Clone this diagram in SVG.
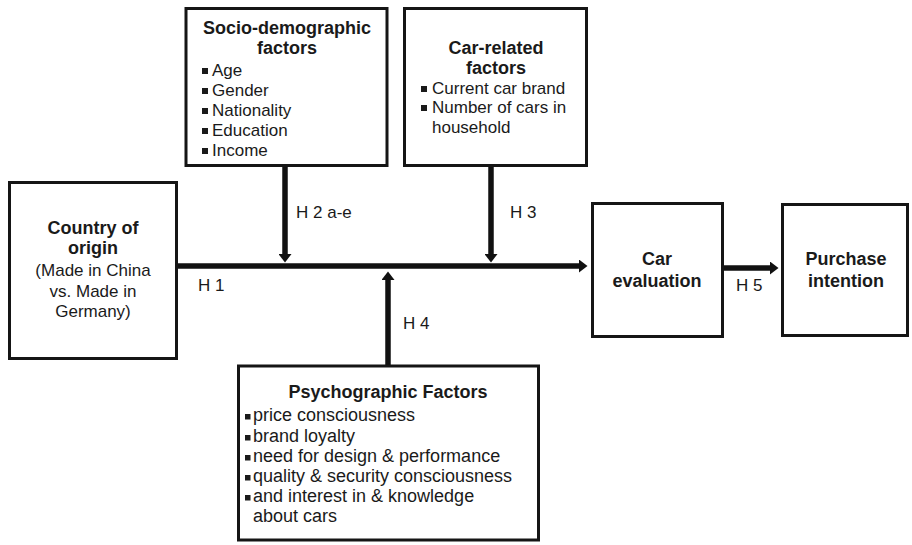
<svg xmlns="http://www.w3.org/2000/svg" width="912" height="545" viewBox="0 0 912 545">
  <style>
    .box { fill: #ffffff; stroke: #151515; stroke-width: 3; }
    .title { font-family: "Liberation Sans", Arial, sans-serif; font-weight: bold; font-size: 18px; fill: #1a1a1a; text-anchor: middle; }
    .body { font-family: "Liberation Sans", Arial, sans-serif; font-size: 17px; fill: #1a1a1a; }
    .psy { font-size: 18px; }
    .mid { text-anchor: middle; }
    .lbl { font-family: "Liberation Sans", Arial, sans-serif; font-size: 17px; fill: #1a1a1a; }
    .bullet { fill: #1a1a1a; }
    .conn { stroke: #111111; stroke-width: 5.5; fill: none; }
  </style>
  <defs>
    <marker id="head" markerUnits="userSpaceOnUse" markerWidth="9" markerHeight="13" refX="0" refY="6.5" orient="auto">
      <path d="M0,0 L8.5,6.5 L0,13 Z" fill="#111111"/>
    </marker>
  </defs>

  <rect width="912" height="545" fill="#ffffff"/>

  <!-- connectors -->
  <g id="connectors">
    <line class="conn" x1="177" y1="266" x2="579" y2="266" marker-end="url(#head)"/>
    <line class="conn" x1="285" y1="167" x2="285" y2="254" marker-end="url(#head)"/>
    <line class="conn" x1="491" y1="167" x2="491" y2="254" marker-end="url(#head)"/>
    <line class="conn" x1="388" y1="365" x2="388" y2="280" marker-end="url(#head)"/>
    <line class="conn" x1="724" y1="268" x2="770" y2="268" marker-end="url(#head)"/>
    <text class="lbl" x="296" y="218">H 2 a-e</text>
    <text class="lbl" x="510" y="218">H 3</text>
    <text class="lbl" x="198" y="291">H 1</text>
    <text class="lbl" x="403" y="329">H 4</text>
    <text class="lbl" x="736" y="291">H 5</text>
  </g>

  <!-- socio-demographic factors -->
  <g id="socio">
    <rect class="box" x="186" y="8.5" width="201" height="157"/>
    <text class="title" x="287" y="34">Socio-demographic</text>
    <text class="title" x="287" y="54">factors</text>
    <rect class="bullet" x="202" y="68" width="6" height="6"/>
    <text class="body" x="212" y="76">Age</text>
    <rect class="bullet" x="202" y="88" width="6" height="6"/>
    <text class="body" x="212" y="96">Gender</text>
    <rect class="bullet" x="202" y="108" width="6" height="6"/>
    <text class="body" x="212" y="116">Nationality</text>
    <rect class="bullet" x="202" y="128" width="6" height="6"/>
    <text class="body" x="212" y="136">Education</text>
    <rect class="bullet" x="202" y="148" width="6" height="6"/>
    <text class="body" x="212" y="156">Income</text>
  </g>

  <!-- car-related factors -->
  <g id="car-related">
    <rect class="box" x="404.5" y="8.5" width="182" height="157"/>
    <text class="title" x="496" y="54">Car-related</text>
    <text class="title" x="496" y="74">factors</text>
    <rect class="bullet" x="421" y="86" width="6" height="6"/>
    <text class="body" x="432" y="94">Current car brand</text>
    <rect class="bullet" x="421" y="105" width="6" height="6"/>
    <text class="body" x="432" y="113">Number of cars in</text>
    <text class="body" x="432" y="133">household</text>
  </g>

  <!-- country of origin -->
  <g id="country">
    <rect class="box" x="9.5" y="182.5" width="167" height="176"/>
    <text class="title" x="93" y="234">Country of</text>
    <text class="title" x="93" y="254">origin</text>
    <text class="body mid" x="93" y="276">(Made in China</text>
    <text class="body mid" x="93" y="297">vs. Made in</text>
    <text class="body mid" x="93" y="317">Germany)</text>
  </g>

  <!-- psychographic factors -->
  <g id="psycho">
    <rect class="box" x="238.5" y="366" width="300" height="174"/>
    <text class="title" x="388" y="398">Psychographic Factors</text>
    <rect class="bullet" x="245" y="414" width="5.5" height="5.5"/>
    <text class="body psy" x="253" y="421">price consciousness</text>
    <rect class="bullet" x="245" y="435" width="5.5" height="5.5"/>
    <text class="body psy" x="253" y="442">brand loyalty</text>
    <rect class="bullet" x="245" y="455" width="5.5" height="5.5"/>
    <text class="body psy" x="253" y="462">need for design &amp; performance</text>
    <rect class="bullet" x="245" y="475" width="5.5" height="5.5"/>
    <text class="body psy" x="253" y="482">quality &amp; security consciousness</text>
    <rect class="bullet" x="245" y="495" width="5.5" height="5.5"/>
    <text class="body psy" x="253" y="502">and interest in &amp; knowledge</text>
    <text class="body psy" x="253" y="522">about cars</text>
  </g>

  <!-- car evaluation -->
  <g id="evaluation">
    <rect class="box" x="592.5" y="203.5" width="130" height="133"/>
    <text class="title" x="657" y="265">Car</text>
    <text class="title" x="657" y="287">evaluation</text>
  </g>

  <!-- purchase intention -->
  <g id="purchase">
    <rect class="box" x="782.5" y="204.5" width="125" height="131"/>
    <text class="title" x="846" y="265">Purchase</text>
    <text class="title" x="846" y="287">intention</text>
  </g>
</svg>
